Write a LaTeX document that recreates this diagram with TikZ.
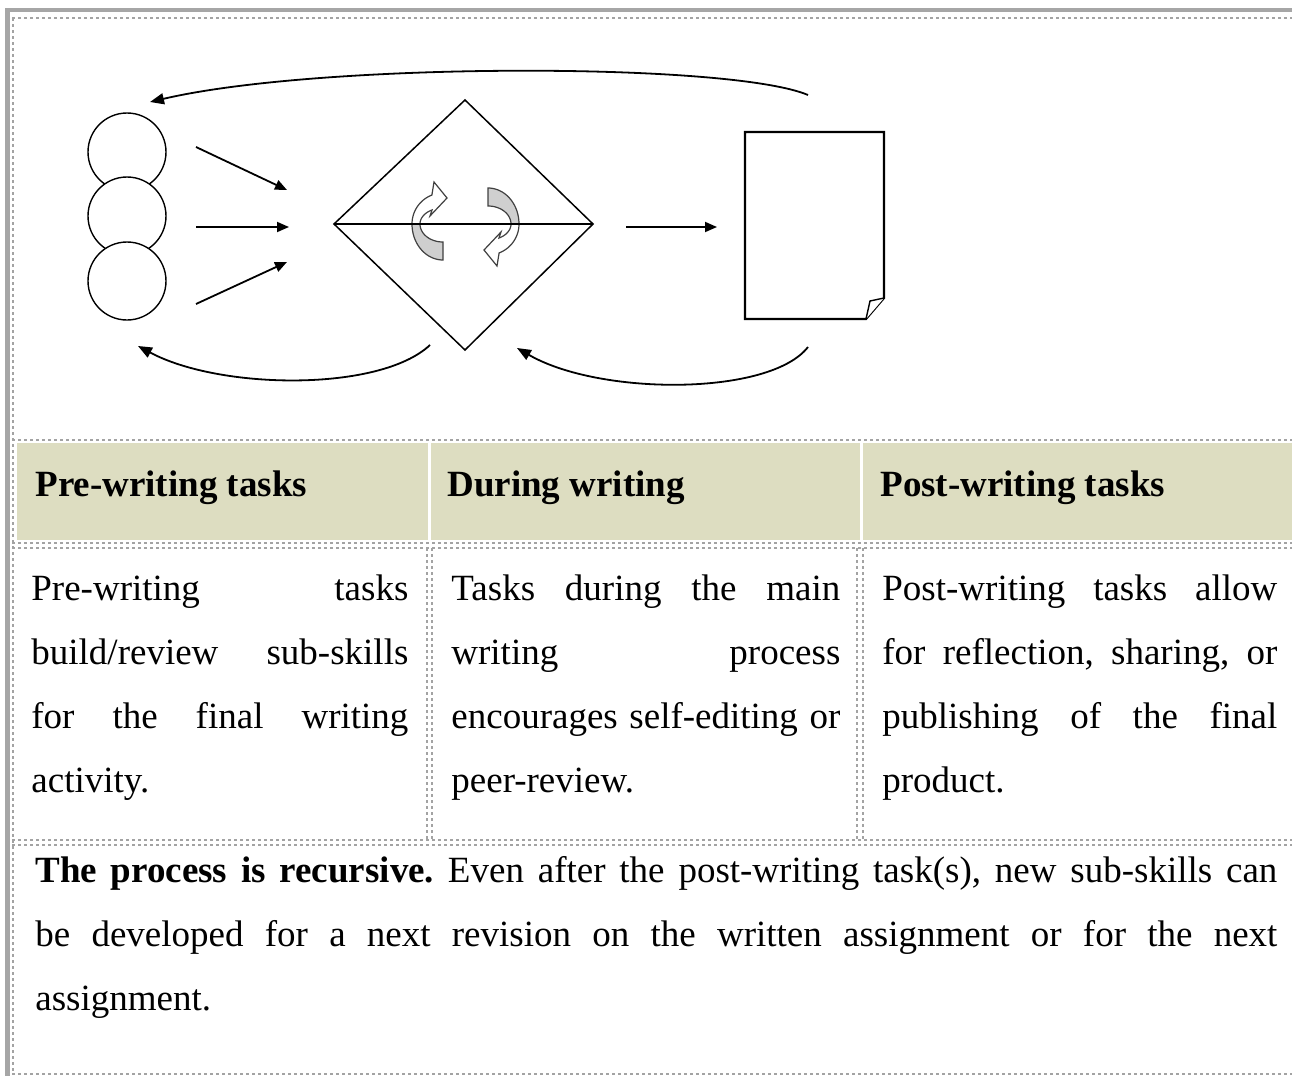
\documentclass[tikz,border=0pt]{standalone}
\usepackage{fontspec}
\setmainfont{Liberation Serif}
\usetikzlibrary{arrows.meta}
\frenchspacing

\definecolor{framegray}{HTML}{A6A6A6}
\definecolor{dotgray}{HTML}{A3A3A3}
\definecolor{headfill}{HTML}{DDDDC1}
\definecolor{turngray}{HTML}{CFCFCF}

\newcommand\bodyfont{\fontsize{18.5}{32}\selectfont\hyphenpenalty=10000\exhyphenpenalty=10000\tolerance=10000}
\newcommand\headfont{\fontsize{18.5}{32}\selectfont\bfseries}

\tikzset{
  frameline/.style={draw=framegray, line width=2.2pt},
  dotline/.style={draw=dotgray, line width=1pt, dash pattern=on 1.5pt off 1.5pt},
  headcell/.style={fill=headfill},
  headtext/.style={anchor=base west, inner sep=0pt, font=\headfont},
  bodytext/.style={anchor=base west, inner sep=0pt, align=justify, font=\bodyfont},
  outline/.style={draw=black, line width=0.8pt},
  flow/.style={line width=0.9pt, -{Triangle[length=6pt,width=5pt]}},
  loopback/.style={line width=0.9pt, -{Triangle[length=7pt,width=5.5pt]}},
  turn/.style={draw=black!75, line width=0.6pt},
  bubble/.style={circle, draw=black, line width=0.7pt, fill=white, minimum size=39pt, inner sep=0pt},
  turnarrow/.pic={
    % shaded back half of the turning band
    \draw[turn, fill=turngray]
      plot[domain=90:180, samples=24] ({31*cos(\x)}, {36*sin(\x)})
      -- plot[domain=180:90, samples=24] ({23*cos(\x)}, {18*sin(\x)}) -- cycle;
    % white front half ending in the arrow head
    \draw[turn, fill=white]
      plot[domain=180:249, samples=24] ({31*cos(\x)}, {31*sin(\x)})
      -- (-9,-42) -- (4,-26) -- (-13,-8)
      -- plot[domain=241.4:180, samples=24] ({23*cos(\x)}, {16*sin(\x)}) -- cycle;
  }
}

\begin{document}
\begin{tikzpicture}[x=0.5pt, y=-0.5pt]
\useasboundingbox (0,0) rectangle (1292,1076);

% ---------- page frame ----------
\draw[frameline] (5,10) -- (1292,10);
\draw[frameline] (7.5,8) -- (7.5,1076);
\draw[dotline] (12,18) -- (1292,18);
\draw[dotline] (12.5,18) -- (12.5,1074);

% ---------- pre-writing: stacked sub-skills ----------
\node[bubble] (c1) at (127,152) {};
\node[bubble] (c2) at (127,216) {};
\node[bubble] (c3) at (127,281) {};

\coordinate (p1) at (196,147);  \coordinate (q1) at (287,190);
\coordinate (p2) at (196,227);  \coordinate (q2) at (289,227);
\coordinate (p3) at (196,304);  \coordinate (q3) at (287,262);
\draw[flow] (p1) -- (q1);
\draw[flow] (p2) -- (q2);
\draw[flow] (p3) -- (q3);

% ---------- during writing: diamond with turning arrows ----------
\coordinate (dt) at (465,100);
\coordinate (dl) at (334,224);
\coordinate (dr) at (593,224);
\coordinate (db) at (465,350);
\draw[outline, line width=0.75pt] (dt) -- (dr) -- (db) -- (dl) -- cycle;
\pic at (443,224) {turnarrow};
\pic[rotate=180] at (488,224) {turnarrow};
\draw[outline, line width=0.75pt] (dl) -- (dr);

\coordinate (p4) at (626,227);  \coordinate (q4) at (717,227);
\draw[flow] (p4) -- (q4);

% ---------- post-writing: the finished page ----------
\coordinate (pg1) at (745,132);
\coordinate (pg2) at (884,132);
\coordinate (pg3) at (884,298);
\coordinate (pg4) at (866,319);
\coordinate (pg5) at (745,319);
\coordinate (pgf) at (870,301);
\draw[line width=1.1pt] (pg1) -- (pg2) -- (pg3) -- (pg4) -- (pg5) -- cycle;
\draw[line width=0.7pt, fill=white] (pg3) -- (pgf) -- (pg4);

% ---------- recursive loops ----------
\coordinate (t1) at (808,95);   \coordinate (t2) at (150,102);
\draw[loopback] (t1) .. controls (730,62) and (320,62) .. (t2);
\coordinate (l1) at (430,345);  \coordinate (l2) at (138,346);
\draw[loopback] (l1) .. controls (380,392) and (220,390) .. (l2);
\coordinate (r1) at (808,347);  \coordinate (r2) at (517,348);
\draw[loopback] (r1) .. controls (770,396) and (600,396) .. (r2);

% ---------- table: header row ----------
\draw[dotline] (12,440) -- (1292,440);
\path[headcell] (17,443) rectangle (428,540);
\path[headcell] (431,443) rectangle (860,540);
\path[headcell] (863,443) rectangle (1292,540);
\draw[dotline] (12,543) -- (1292,543);
\draw[dotline] (12,548) -- (1292,548);

\node[headtext] (h1) at (35,496) {Pre-writing tasks};
\node[headtext] (h2) at (447,496) {During writing};
\node[headtext] (h3) at (880,496) {Post-writing tasks};

% ---------- table: description row ----------
\draw[dotline] (427,548) -- (427,842);
\draw[dotline] (432,548) -- (432,842);
\draw[dotline] (857,548) -- (857,842);
\draw[dotline] (863,548) -- (863,842);

\node[bodytext, text width=188.5pt] (b1) at (31,600)
  {Pre-writing tasks\linebreak build/review sub-skills\linebreak for the final writing\linebreak activity.};
\node[bodytext, text width=194.5pt] (b2) at (451,600)
  {Tasks during the main\linebreak writing process\linebreak encourages self-editing or\linebreak peer-review.};
\node[bodytext, text width=197.5pt] (b3) at (882,600)
  {Post-writing tasks allow\linebreak for reflection, sharing, or\linebreak publishing of the final\linebreak product.};

% ---------- table: closing row ----------
\draw[dotline] (12,840) -- (1292,840);
\draw[dotline] (12,845) -- (1292,845);
\node[bodytext, text width=621pt] (b4) at (35,882)
  {\textbf{The process is recursive.} Even after the post-writing task(s), new sub-skills can\linebreak be developed for a next revision on the written assignment or for the next\linebreak assignment.};
\draw[dotline] (12,1074) -- (1292,1074);
\end{tikzpicture}
\end{document}
